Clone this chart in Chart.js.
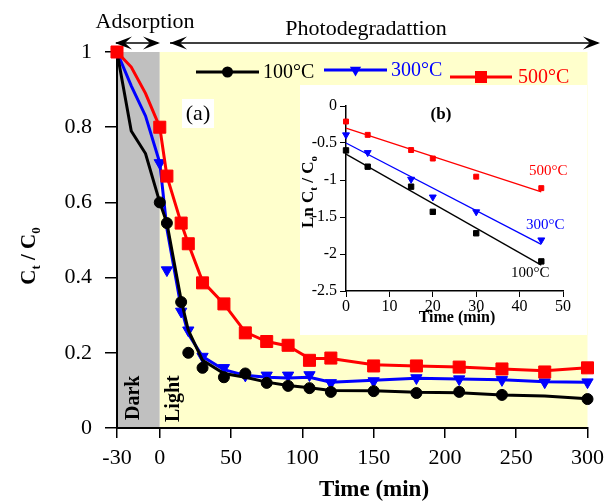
<!DOCTYPE html>
<html>
<head>
<meta charset="utf-8">
<script src="https://cdn.jsdelivr.net/npm/chart.js@4.4.0/dist/chart.umd.min.js"></script>
<style>
  body { margin: 0; background: #fff; }
  #wrap { position: relative; width: 611px; height: 501px; }
  #inset { position: absolute; left: 300px; top: 85px; background: #fff; }
</style>
</head>
<body>
<div id="wrap">
  <canvas id="main" width="611" height="501"></canvas>
  <canvas id="inset" width="287" height="250"></canvas>
</div>
<script>
// main panel (a): C/C0 vs time
const TIME = [-30, -20, -10, 0, 5, 15, 20, 30, 45, 60, 75, 90, 105, 120, 150, 180, 210, 240, 270, 300];
const X_TICKS = [-30, 0, 50, 100, 150, 200, 250, 300];
const LINE_100 = [1.0, 0.79, 0.73, 0.60, 0.545, 0.34, 0.26, 0.18, 0.145, 0.135, 0.122, 0.113, 0.107, 0.100, 0.099, 0.095, 0.094, 0.088, 0.085, 0.078];
const MARK_100 = [1.0, null, null, 0.60, 0.545, 0.335, 0.20, 0.16, 0.135, 0.145, 0.12, 0.112, 0.106, 0.096, 0.098, 0.093, 0.096, 0.088, null, 0.077];
const LINE_300 = [1.0, 0.91, 0.83, 0.705, 0.53, 0.32, 0.25, 0.19, 0.155, 0.14, 0.135, 0.133, 0.135, 0.122, 0.127, 0.132, 0.13, 0.128, 0.123, 0.122];
const MARK_300 = [1.0, null, null, 0.705, 0.42, 0.31, 0.26, 0.19, 0.16, 0.14, 0.14, 0.14, 0.141, 0.12, 0.125, 0.133, 0.13, 0.128, 0.122, 0.122];
const LINE_500 = [1.0, 0.96, 0.89, 0.80, 0.67, 0.545, 0.49, 0.39, 0.33, 0.255, 0.23, 0.218, 0.185, 0.185, 0.168, 0.165, 0.162, 0.157, 0.152, 0.16];
const MARK_500 = [1.0, null, null, 0.80, 0.67, 0.545, 0.49, 0.386, 0.33, 0.253, 0.23, 0.22, 0.18, 0.186, 0.165, 0.165, 0.162, 0.157, 0.149, 0.16];

// inset panel (b): ln(Ct/C0) vs time
const K_TIME = [0, 5, 15, 20, 30, 45];
const K_100 = [-0.6, -0.82, -1.09, -1.43, -1.72, -2.1];
const K_300 = [-0.39, -0.63, -0.99, -1.23, -1.43, -1.81];
const K_500 = [-0.21, -0.39, -0.595, -0.71, -0.955, -1.11];
const FIT_TIME = [0, 45];
const FIT_100 = [-0.65, -2.15];
const FIT_300 = [-0.50, -1.87];
const FIT_500 = [-0.30, -1.16];

const SERIF = '"Liberation Serif", "Times New Roman", serif';
const BLACK = '#000000', BLUE = '#0000ff', RED = '#ff0000';

function pts(xs, ys) {
  return xs.map((x, i) => ({ x: x, y: ys[i] })).filter(p => p.y !== null);
}

function lineSet(xs, ys, color, w) {
  return { data: pts(xs, ys), showLine: true, borderColor: color, borderWidth: w, pointRadius: 0, clip: false };
}

function markSet(xs, ys, color, style, r, rot) {
  return {
    data: pts(xs, ys), showLine: false, pointStyle: style, pointRadius: r, pointRotation: rot || 0,
    backgroundColor: color, borderColor: color, borderWidth: 1, clip: false
  };
}

// text with subscripts, parts = [[text, isSub], ...], centered at x
function subText(ctx, parts, x, y, size, bold) {
  const fMain = (bold ? 'bold ' : '') + size + 'px ' + SERIF;
  const fSub = (bold ? 'bold ' : '') + Math.round(size * 0.62) + 'px ' + SERIF;
  let total = 0;
  parts.forEach(p => { ctx.font = p[1] ? fSub : fMain; total += ctx.measureText(p[0]).width; });
  let cx = x - total / 2;
  ctx.textAlign = 'left';
  ctx.textBaseline = 'middle';
  parts.forEach(p => {
    ctx.font = p[1] ? fSub : fMain;
    ctx.fillText(p[0], cx, p[1] ? y + size * 0.32 : y);
    cx += ctx.measureText(p[0]).width;
  });
}

function arrowHead(ctx, x, y, dir) {
  ctx.beginPath();
  ctx.moveTo(x, y);
  ctx.lineTo(x - dir * 17, y - 6.5);
  ctx.lineTo(x - dir * 10, y);
  ctx.lineTo(x - dir * 17, y + 6.5);
  ctx.closePath();
  ctx.fill();
}

const mainDecor = {
  id: 'mainDecor',
  beforeDraw(chart) {
    const ctx = chart.ctx, x = chart.scales.x, y = chart.scales.y;
    ctx.save();
    ctx.fillStyle = '#fff';
    ctx.fillRect(0, 0, chart.width, chart.height);
    const top = y.getPixelForValue(1), bot = y.getPixelForValue(0);
    const x0 = x.getPixelForValue(-30), x1 = x.getPixelForValue(0), x2 = x.getPixelForValue(300);
    ctx.fillStyle = '#c0c0c0';
    ctx.fillRect(x0, top, x1 - x0, bot - top);
    ctx.fillStyle = '#ffffcc';
    ctx.fillRect(x1, top, x2 - x1, bot - top);

    // Dark / Light
    ctx.fillStyle = '#000';
    ctx.font = 'bold 20px ' + SERIF;
    ctx.textAlign = 'left';
    ctx.textBaseline = 'middle';
    ctx.save(); ctx.translate(134, 420); ctx.rotate(-Math.PI / 2); ctx.fillText('Dark', 0, 0); ctx.restore();
    ctx.save(); ctx.translate(174, 422); ctx.rotate(-Math.PI / 2); ctx.fillText('Light', 0, 0); ctx.restore();
    ctx.restore();
  },
  afterDraw(chart) {
    const ctx = chart.ctx;
    ctx.save();
    ctx.fillStyle = '#000';
    ctx.strokeStyle = '#000';

    // header texts and arrows
    ctx.font = '22px ' + SERIF;
    ctx.textAlign = 'center';
    ctx.textBaseline = 'middle';
    ctx.fillText('Adsorption', 145, 22);
    ctx.fillText('Photodegradattion', 366, 29);
    ctx.lineWidth = 1.5;
    ctx.beginPath(); ctx.moveTo(116, 43); ctx.lineTo(158, 43); ctx.stroke();
    ctx.beginPath(); ctx.moveTo(170, 43); ctx.lineTo(598, 43); ctx.stroke();
    arrowHead(ctx, 115, 43, -1);
    arrowHead(ctx, 160, 43, 1);
    arrowHead(ctx, 170, 43, -1);
    arrowHead(ctx, 600, 43, 1);

    // legend
    const items = [
      { x1: 196, x2: 259, y: 72, color: BLACK, style: 'circle', r: 5.5, rot: 0, label: '100°C', tx: 263 },
      { x1: 324, x2: 387, y: 70, color: BLUE, style: 'triangle', r: 6.5, rot: 180, label: '300°C', tx: 391 },
      { x1: 450, x2: 512, y: 77, color: RED, style: 'rect', r: 8.5, rot: 0, label: '500°C', tx: 518 }
    ];
    items.forEach(it => {
      ctx.strokeStyle = it.color;
      ctx.fillStyle = it.color;
      ctx.lineWidth = 3;
      ctx.beginPath(); ctx.moveTo(it.x1, it.y); ctx.lineTo(it.x2, it.y); ctx.stroke();
      ctx.lineWidth = 1;
      Chart.helpers.drawPoint(ctx, { pointStyle: it.style, radius: it.r, rotation: it.rot }, (it.x1 + it.x2) / 2, it.y);
      ctx.font = '20px ' + SERIF;
      ctx.textAlign = 'left';
      ctx.textBaseline = 'middle';
      ctx.fillText(it.label, it.tx, it.y + 1);
    });

    // (a) label with white box
    ctx.fillStyle = '#fff';
    ctx.fillRect(182, 99, 32, 29);
    ctx.fillStyle = '#000';
    ctx.font = '22px ' + SERIF;
    ctx.textAlign = 'center';
    ctx.fillText('(a)', 198, 114);

    // axis titles
    subText(ctx, [['Time (min)', false]], 374, 490, 23, true);
    ctx.save();
    ctx.translate(30, 256);
    ctx.rotate(-Math.PI / 2);
    subText(ctx, [['C', false], ['t', true], [' / C', false], ['0', true]], 0, 0, 21, true);
    ctx.restore();
    ctx.restore();
  }
};

new Chart(document.getElementById('main'), {
  type: 'scatter',
  data: {
    datasets: [
      markSet(TIME, MARK_500, RED, 'rect', 8.5),
      lineSet(TIME, LINE_500, RED, 3),
      markSet(TIME, MARK_100, BLACK, 'circle', 5.5),
      lineSet(TIME, LINE_100, BLACK, 3),
      markSet(TIME, MARK_300, BLUE, 'triangle', 6.5, 180),
      lineSet(TIME, LINE_300, BLUE, 3)
    ]
  },
  options: {
    responsive: false,
    animation: false,
    devicePixelRatio: 1,
    layout: { padding: { top: 52, right: 23, left: 0, bottom: 0 } },
    plugins: { legend: { display: false }, tooltip: { enabled: false } },
    scales: {
      x: {
        type: 'linear', min: -30, max: 300,
        afterBuildTicks: s => { s.ticks = X_TICKS.map(v => ({ value: v })); },
        afterFit: s => { s.height = 73; },
        grid: { drawOnChartArea: false, drawTicks: true, tickLength: 10, color: '#000', lineWidth: 1.5 },
        border: { color: '#000', width: 2 },
        ticks: { color: '#000', font: { family: SERIF, size: 22 }, padding: 7, maxRotation: 0 }
      },
      y: {
        min: 0, max: 1,
        afterFit: s => { s.width = 117; },
        grid: { drawOnChartArea: false, drawTicks: true, tickLength: 12, color: '#000', lineWidth: 1.5 },
        border: { color: '#000', width: 2 },
        ticks: { stepSize: 0.2, color: '#000', font: { family: SERIF, size: 22 }, padding: 13,
                 callback: v => String(+v.toFixed(1)) }
      }
    }
  },
  plugins: [mainDecor]
});

const insetDecor = {
  id: 'insetDecor',
  beforeDraw(chart) {
    const ctx = chart.ctx;
    ctx.save();
    ctx.fillStyle = '#fff';
    ctx.fillRect(0, 0, chart.width, chart.height);
    ctx.restore();
  },
  afterDraw(chart) {
    const ctx = chart.ctx;
    ctx.save();
    ctx.fillStyle = '#000';
    ctx.font = 'bold 17px ' + SERIF;
    ctx.textAlign = 'center';
    ctx.textBaseline = 'middle';
    ctx.fillText('(b)', 141, 30);

    ctx.font = '15px ' + SERIF;
    ctx.textAlign = 'left';
    ctx.fillStyle = RED; ctx.fillText('500°C', 229, 86);
    ctx.fillStyle = BLUE; ctx.fillText('300°C', 226, 140);
    ctx.fillStyle = BLACK; ctx.fillText('100°C', 211, 188);

    ctx.fillStyle = '#000';
    subText(ctx, [['Time (min)', false]], 157, 233, 16, true);
    ctx.save();
    ctx.translate(9, 107);
    ctx.rotate(-Math.PI / 2);
    subText(ctx, [['Ln C', false], ['t', true], [' / C', false], ['o', true]], 0, 0, 17, true);
    ctx.restore();
    ctx.restore();
  }
};

new Chart(document.getElementById('inset'), {
  type: 'scatter',
  data: {
    datasets: [
      markSet(K_TIME, K_500, RED, 'rect', 3.5),
      lineSet(FIT_TIME, FIT_500, RED, 1.3),
      markSet(K_TIME, K_300, BLUE, 'triangle', 4, 180),
      lineSet(FIT_TIME, FIT_300, BLUE, 1.3),
      markSet(K_TIME, K_100, BLACK, 'rect', 3.8),
      lineSet(FIT_TIME, FIT_100, BLACK, 1.3)
    ]
  },
  options: {
    responsive: false,
    animation: false,
    devicePixelRatio: 1,
    layout: { padding: { top: 21, right: 24, left: 0, bottom: 0 } },
    plugins: { legend: { display: false }, tooltip: { enabled: false } },
    scales: {
      x: {
        type: 'linear', min: 0, max: 50,
        afterFit: s => { s.height = 44; },
        grid: { drawOnChartArea: false, drawTicks: true, tickLength: 6, color: '#000', lineWidth: 1 },
        border: { color: '#000', width: 1.5 },
        ticks: { stepSize: 10, color: '#000', font: { family: SERIF, size: 16 }, padding: 0, maxRotation: 0 }
      },
      y: {
        min: -2.5, max: 0,
        afterFit: s => { s.width = 46; },
        grid: { drawOnChartArea: false, drawTicks: true, tickLength: 6, color: '#000', lineWidth: 1 },
        border: { color: '#000', width: 1.5 },
        ticks: { stepSize: 0.5, color: '#000', font: { family: SERIF, size: 16 }, padding: 3,
                 callback: v => String(+v.toFixed(1)) }
      }
    }
  },
  plugins: [insetDecor]
});
</script>
</body>
</html>
